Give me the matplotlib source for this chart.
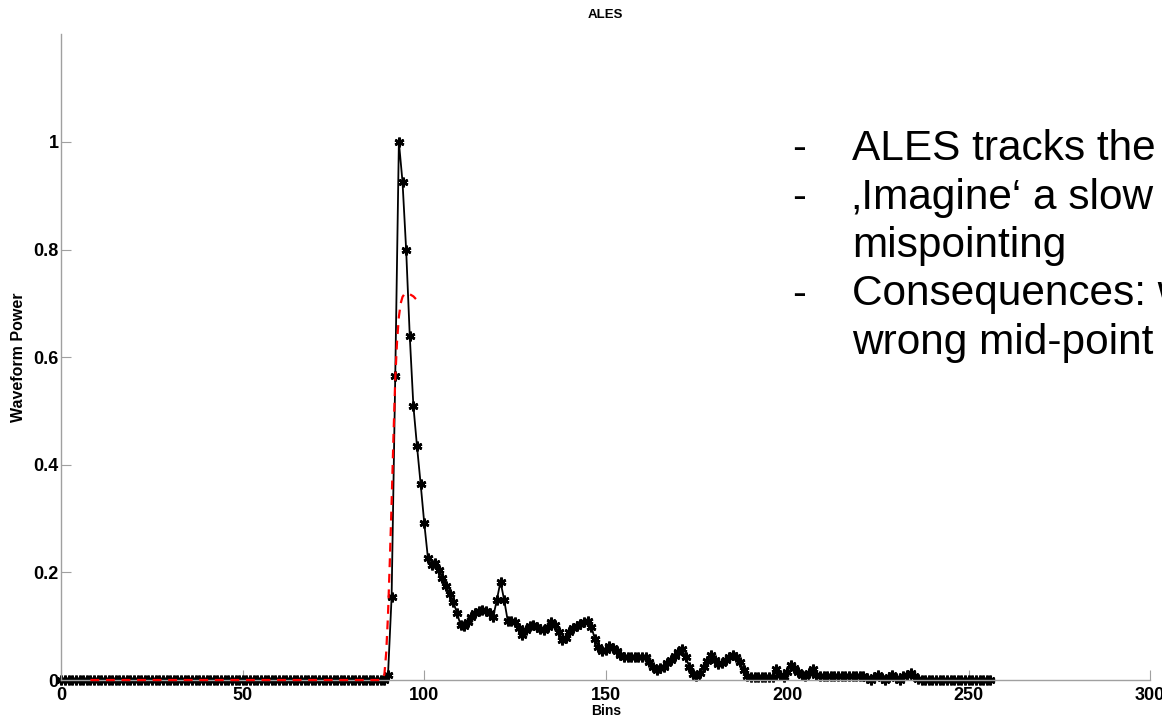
import matplotlib

matplotlib.use("Agg")
import matplotlib.pyplot as plt
import numpy as np

# waveform power per bin (bins 0..256)
bins = np.arange(0, 257)
power = [0.0] * 90 + [
    0.009, 0.155, 0.565, 1.000, 0.926, 0.800, 0.639, 0.509, 0.434, 0.364,
    0.291, 0.227, 0.214, 0.218, 0.205, 0.190, 0.175, 0.160, 0.145, 0.125,
    0.102, 0.100, 0.108, 0.117, 0.124, 0.129, 0.131, 0.129, 0.124, 0.118,
    0.149, 0.183, 0.149, 0.110, 0.110, 0.107, 0.096, 0.084, 0.093, 0.100,
    0.102, 0.099, 0.094, 0.093, 0.099, 0.108, 0.102, 0.090, 0.074, 0.079,
    0.090, 0.096, 0.100, 0.105, 0.108, 0.110, 0.099, 0.077, 0.062, 0.053,
    0.055, 0.063, 0.059, 0.053, 0.046, 0.043, 0.043, 0.043, 0.043, 0.043,
    0.043, 0.043, 0.034, 0.025, 0.018, 0.022, 0.025, 0.031, 0.037, 0.045,
    0.052, 0.057, 0.043, 0.025, 0.012, 0.007, 0.013, 0.025, 0.036, 0.046,
    0.037, 0.029, 0.032, 0.037, 0.042, 0.046, 0.042, 0.033, 0.018, 0.008,
    0.006, 0.006, 0.006, 0.006, 0.006, 0.006, 0.006, 0.020, 0.010, 0.006,
    0.015, 0.028, 0.022, 0.015, 0.009, 0.007, 0.013, 0.020, 0.010, 0.007,
    0.007, 0.007, 0.007, 0.007, 0.007, 0.007, 0.007, 0.007, 0.007, 0.007,
    0.007, 0.007, 0.003, 0.000, 0.005, 0.009, 0.004, 0.000, 0.005, 0.009,
    0.004, 0.000, 0.007, 0.010, 0.013, 0.008, 0.002, 0.000, 0.000, 0.000,
    0.000, 0.000, 0.000, 0.000, 0.000, 0.000, 0.000, 0.000, 0.000, 0.000,
    0.000, 0.000, 0.000, 0.000, 0.000, 0.000, 0.000,
]

# ALES fit (red dashed)
fit_bins = [8, 88, 89, 89.5, 90, 90.5, 91, 91.5, 92, 92.5, 93, 93.5, 94, 94.5, 95, 96, 97, 97.7]
fit_power = [0.0, 0.0, 0.01, 0.05, 0.12, 0.22, 0.33, 0.45, 0.56, 0.63, 0.675, 0.70, 0.712, 0.717,
             0.718, 0.717, 0.713, 0.708]

x_ticks = [0, 50, 100, 150, 200, 250, 300]
y_ticks = [0, 0.2, 0.4, 0.6, 0.8, 1.0]
y_tick_labels = ["0", "0.2", "0.4", "0.6", "0.8", "1"]

bullets = [
    ("-", "ALES tracks the"),
    ("-", "\u201aImagine\u2018 a slow"),
    ("", "mispointing"),
    ("-", "Consequences: w"),
    ("", "wrong mid-point"),
]

plt.rcParams["font.family"] = ["Liberation Sans", "DejaVu Sans"]

fig = plt.figure(figsize=(11.62, 7.18), dpi=100)
ax = fig.add_axes([0.0528, 0.0529, 0.9370, 0.8993])

ax.plot(bins, power, color="black", lw=1.3, marker=(6, 2, 0), ms=7, mew=1.9, clip_on=False, zorder=2)
ax.plot(fit_bins, fit_power, color="red", lw=1.6, ls=(0, (4, 3)), clip_on=False, zorder=3)

ax.set_xlim(0, 300)
ax.set_ylim(0, 1.2)
ax.set_xticks(x_ticks)
ax.set_yticks(y_ticks)
ax.set_yticklabels(y_tick_labels)
for spine in ("top", "right"):
    ax.spines[spine].set_visible(False)
for spine in ("left", "bottom"):
    ax.spines[spine].set_color("#a0a0a0")
    ax.spines[spine].set_linewidth(1.0)
ax.tick_params(direction="in", length=7, width=0.8, color="#a0a0a0", labelsize=13)
ax.tick_params(axis="y", pad=2)
ax.tick_params(axis="x", pad=5)
for lbl in ax.get_xticklabels() + ax.get_yticklabels():
    lbl.set_fontweight("bold")

ax.set_title("ALES", fontsize=9.5, fontweight="bold", pad=12)
ax.set_xlabel("Bins", fontsize=10, fontweight="bold", labelpad=0)
ax.set_ylabel("Waveform Power", fontsize=11.5, fontweight="bold", labelpad=5)

# slide bullet text overlaid on the right
for i, (dash, line) in enumerate(bullets):
    y = 1 - (160 + 48.5 * i) / 718
    if dash:
        fig.text(799 / 1162, y, dash, fontsize=30, ha="center", va="baseline")
    fig.text(852 / 1162, y, line, fontsize=30.5, ha="left", va="baseline")

fig.savefig("out.png", dpi=100)
